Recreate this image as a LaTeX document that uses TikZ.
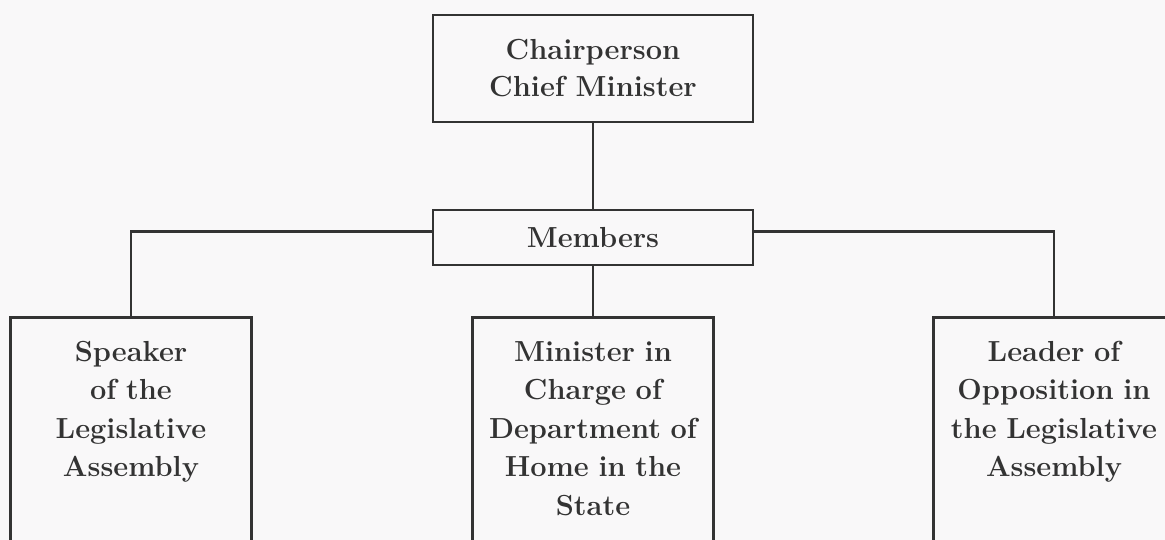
\documentclass[tikz,border=0pt]{standalone}
\usepackage{fontspec}
\definecolor{ink}{HTML}{333333}
\definecolor{paper}{HTML}{F9F8F9}

\begin{document}
\begin{tikzpicture}[x=1pt,y=-1pt,
    post/.style={draw=ink,line width=2.5pt,text=ink,font=\fontsize{29}{37}\selectfont\bfseries,align=center,minimum width=320pt},
    office/.style={draw=ink,line width=2.5pt,text=ink,font=\fontsize{29}{38.5}\selectfont\bfseries,align=center,text width=233pt,inner xsep=4pt,inner ysep=24pt,text height=20pt,text depth=260pt,anchor=north},
    link/.style={draw=ink,line width=2.2pt}]
    \fill[paper] (0,0) rectangle (1165,540);
    \useasboundingbox (0,0) rectangle (1165,540);
    \node[post,minimum height=107pt] (chair) at (593,68.5) {Chairperson\\Chief Minister};
    \node[post,minimum height=55pt] (members) at (593,237.5) {Members};
    \node[office] (speaker) at (131,316) {Speaker\\of the\\Legislative\\Assembly};
    \node[office] (home) at (593,316) {Minister in\\Charge of\\Department of\\Home in the\\State};
    \node[office] (leader) at (1054,316) {Leader of\\Opposition in\\the Legislative\\Assembly};
    \draw[link] (chair) -- (members);
    \draw[link] ([yshift=6pt]members.west) -| (speaker.north);
    \draw[link] (members) -- (home.north);
    \draw[link] ([yshift=6pt]members.east) -| (leader.north);
\end{tikzpicture}
\end{document}
